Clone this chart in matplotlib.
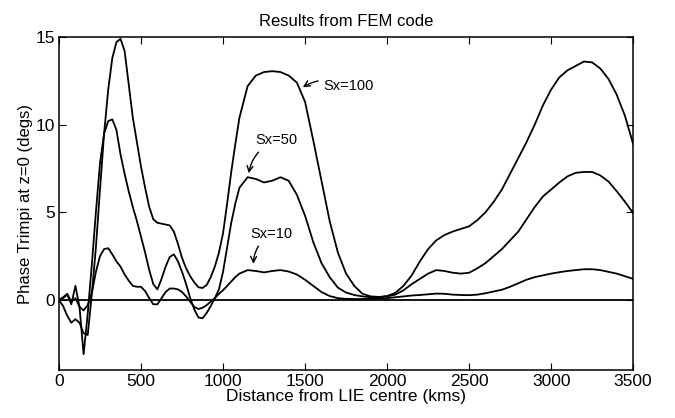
import matplotlib
matplotlib.use("Agg")
import matplotlib.pyplot as plt

# distance from LIE centre (km): 25 km steps to 1100, then 50 km steps
dist = list(range(0, 1101, 25)) + list(range(1150, 3501, 50))

sx100 = [0.0, -0.35, -0.9, -1.3, -1.1, -1.3, -1.9, -2.0, 0.3, 3.0,
         6.3, 9.5, 12.0, 13.8, 14.7, 14.9, 14.2, 12.3, 10.4, 9.0,
         7.6, 6.4, 5.3, 4.6, 4.4, 4.35, 4.3, 4.25, 3.9, 3.2,
         2.4, 1.8, 1.35, 1.0, 0.72, 0.68, 0.85, 1.3, 1.9, 2.7,
         3.8, 5.5, 7.3, 8.9, 10.4,
         12.2, 12.8, 13.0, 13.05, 13.0, 12.8, 12.4, 11.3, 9.1, 6.8,
         4.5, 2.7, 1.5, 0.8, 0.35, 0.2, 0.17, 0.22, 0.4, 0.8,
         1.4, 2.2, 2.9, 3.4, 3.7, 3.9, 4.05, 4.2, 4.55, 5.0,
         5.6, 6.3, 7.2, 8.1, 9.0, 10.0, 11.1, 12.0, 12.7, 13.1,
         13.35, 13.6, 13.55, 13.2, 12.6, 11.7, 10.5, 8.9]

sx50 = [0.0, 0.1, 0.3, -0.25, 0.8, -0.4, -3.1, -0.8, 2.0, 5.0,
        7.8, 9.5, 10.2, 10.3, 9.7, 8.3, 7.2, 6.2, 5.3, 4.5,
        3.6, 2.7, 1.7, 0.9, 0.6, 1.2, 1.9, 2.45, 2.6, 2.2,
        1.6, 0.9, 0.1, -0.55, -1.0, -1.05, -0.75, -0.35, 0.1, 0.6,
        1.6, 3.0, 4.4, 5.5, 6.4,
        7.0, 6.9, 6.7, 6.8, 7.0, 6.8, 6.0, 4.8, 3.3, 2.1,
        1.3, 0.7, 0.42, 0.28, 0.2, 0.15, 0.15, 0.2, 0.3, 0.55,
        0.9, 1.2, 1.5, 1.7, 1.65, 1.55, 1.5, 1.55, 1.8, 2.1,
        2.5, 2.9, 3.4, 3.9, 4.6, 5.3, 5.9, 6.3, 6.7, 7.05,
        7.25, 7.3, 7.3, 7.1, 6.75, 6.2, 5.6, 4.95]

sx10 = [0.0, 0.15, 0.35, -0.1, 0.1, -0.4, -0.6, -0.3, 0.4, 1.6,
        2.5, 2.9, 2.95, 2.6, 2.2, 1.9, 1.45, 1.1, 0.8, 0.75,
        0.75, 0.5, 0.1, -0.25, -0.25, 0.1, 0.45, 0.65, 0.65, 0.6,
        0.45, 0.2, -0.1, -0.4, -0.52, -0.45, -0.3, -0.1, 0.1, 0.35,
        0.55, 0.8, 1.05, 1.3, 1.5,
        1.7, 1.65, 1.57, 1.65, 1.7, 1.62, 1.45, 1.15, 0.8, 0.45,
        0.22, 0.1, 0.06, 0.05, 0.05, 0.06, 0.08, 0.1, 0.15, 0.2,
        0.25, 0.28, 0.32, 0.36, 0.35, 0.3, 0.28, 0.27, 0.3, 0.38,
        0.48, 0.58, 0.75, 0.95, 1.15, 1.3, 1.4, 1.5, 1.58, 1.65,
        1.7, 1.75, 1.75, 1.7, 1.6, 1.5, 1.35, 1.2]

plt.rcParams["font.family"] = "Liberation Sans"

fig = plt.figure(figsize=(6.75, 4.18), dpi=100)
ax = fig.add_axes([0.0874, 0.1148, 0.8506, 0.7967])

for ys in (sx100, sx50, sx10):
    ax.plot(dist, ys, color="black", lw=1.3)
ax.axhline(0, color="black", lw=1.3)

ax.set_xlim(0, 3500)
ax.set_ylim(-4, 15)
ax.set_xticks(range(0, 3501, 500))
ax.set_yticks([0, 5, 10, 15])
ax.tick_params(direction="in", top=True, right=True, length=5, labelsize=12.5, pad=3)
for s in ax.spines.values():
    s.set_linewidth(1.1)

ax.set_title("Results from FEM code", fontsize=12, pad=8)
ax.set_xlabel("Distance from LIE centre (kms)", fontsize=12.5, labelpad=0)
ax.set_ylabel("Phase Trimpi at z=0 (degs)", fontsize=12, labelpad=2)

arrow = dict(arrowstyle="->", color="black", lw=1.0)
ax.annotate("Sx=100", xy=(1472, 12.05), xytext=(1613, 12.2), fontsize=10.5,
            va="center", arrowprops=dict(arrow, connectionstyle="arc3,rad=0.3"))
ax.annotate("Sx=50", xy=(1154, 7.07), xytext=(1197, 9.1), fontsize=10.5,
            va="center", arrowprops=dict(arrow, connectionstyle="arc3,rad=0.3"))
ax.annotate("Sx=10", xy=(1185, 1.9), xytext=(1167, 3.75), fontsize=10.5,
            va="center", arrowprops=dict(arrow, connectionstyle="arc3,rad=0.3"))

fig.savefig("out.png", dpi=100)
